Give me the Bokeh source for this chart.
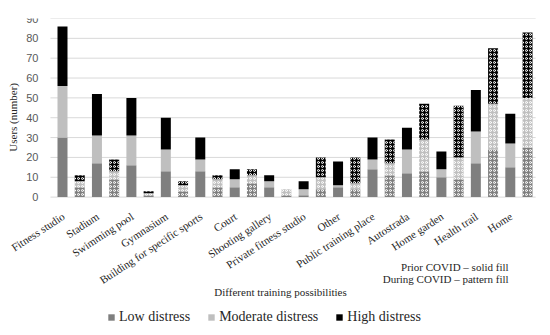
import math
from bokeh.plotting import figure
from bokeh.models import ColumnDataSource, FixedTicker, Legend, LegendItem, Label
from bokeh.core.properties import value
from bokeh.embed import file_html
from bokeh.resources import INLINE

categories = ["Fitness studio", "Stadium", "Swimming pool", "Gymnasium",
              "Building for specific sports", "Court", "Shooting gallery",
              "Private fitness studio", "Other", "Public training place",
              "Autostrada", "Home garden", "Health trail", "Home"]

prior_low = [30, 17, 16, 13, 13, 5, 5, 1, 5, 14, 12, 10, 17, 15]
prior_mod = [26, 14, 15, 11, 6, 4, 3, 3, 1, 5, 12, 4, 16, 12]
prior_high = [30, 21, 19, 16, 11, 5, 3, 4, 12, 11, 11, 9, 21, 15]

during_low = [5, 9, 1, 3, 5, 7, 1, 4, 4, 11, 13, 9, 24, 25]
during_mod = [3, 4, 1, 3, 4, 4, 3, 6, 3, 6, 16, 11, 23, 25]
during_high = [3, 6, 1, 2, 2, 3, 0, 10, 13, 12, 18, 26, 28, 33]

y_ticks = [0, 10, 20, 30, 40, 50, 60, 70, 80, 90]
stack_names = ["Low distress", "Moderate distress", "High distress"]
colors = ["#7f7f7f", "#bfbfbf", "#000000"]

n = len(categories)
src_prior = ColumnDataSource(dict(x=[2 * i for i in range(n)], low=prior_low,
                                  mod=prior_mod, high=prior_high))
src_during = ColumnDataSource(dict(x=[2 * i + 1 for i in range(n)], low=during_low,
                                   mod=during_mod, high=during_high))

AXIS_X = -0.7      # where the plotting area begins (data units)
GRID_END = 27.47

p = figure(width=542, height=327, output_backend="svg", toolbar_location=None,
           x_range=(-3.6, 27.87), y_range=(-65.7, 90),
           min_border_left=0, min_border_right=0, min_border_top=18,
           min_border_bottom=0)
p.outline_line_color = None
p.xgrid.grid_line_color = None
p.ygrid.grid_line_color = None

# horizontal gridlines over the plotting area only
p.segment(x0=[AXIS_X] * len(y_ticks), x1=[GRID_END] * len(y_ticks),
          y0=y_ticks, y1=y_ticks, line_color="#d9d9d9", line_width=1)

r_prior = p.vbar_stack(["low", "mod", "high"], x="x", width=0.58, source=src_prior,
                       color=colors, line_color=None)
r_during = p.vbar_stack(["low", "mod", "high"], x="x", width=0.58, source=src_during,
                        fill_color=colors, line_color=None, hatch_pattern="ring",
                        hatch_color="white", hatch_scale=4, hatch_weight=1)

p.yaxis.fixed_location = AXIS_X
p.yaxis.ticker = FixedTicker(ticks=y_ticks)
p.yaxis.axis_line_color = None
p.yaxis.major_tick_line_color = None
p.yaxis.minor_tick_line_color = None
p.yaxis.major_label_text_font = "Liberation Sans"
p.yaxis.major_label_text_font_size = "11px"
p.yaxis.major_label_text_color = "#595959"
p.yaxis.major_label_standoff = 6

label_ticks = [2 * i + 0.05 for i in range(n)]
p.xaxis.fixed_location = 0
p.xaxis.ticker = FixedTicker(ticks=label_ticks)
p.xaxis.major_label_overrides = {c: name for c, name in zip(label_ticks, categories)}
p.xaxis.major_label_orientation = 0.58
p.xaxis.axis_line_color = None
p.xaxis.major_tick_line_color = None
p.xaxis.minor_tick_line_color = None
p.xaxis.major_label_text_font = "Liberation Serif"
p.xaxis.major_label_text_font_size = "11px"
p.xaxis.major_label_text_color = "#262626"
p.xaxis.major_label_standoff = 12

txt = dict(text_font="Liberation Serif", text_font_size="11px", text_color="#262626",
           text_baseline="middle")
p.text(x=[-2.889], y=[40.2], text=["Users (number)"], angle=math.pi / 2,
       text_align="center", text_baseline="middle", text_font=value("Liberation Serif"),
       text_font_size="11px", text_color="#262626")
p.add_layout(Label(x=12.66, y=-48.0, text="Different training possibilities",
                   text_align="center", **txt))
p.add_layout(Label(x=25.9, y=-35.4, text="Prior COVID \u2013 solid fill",
                   text_align="right", **txt))
p.add_layout(Label(x=25.9, y=-41.5, text="During COVID \u2013 pattern fill",
                   text_align="right", **txt))

legend = Legend(items=[LegendItem(label=nm, renderers=[r]) for nm, r in zip(stack_names, r_prior)],
                orientation="horizontal", location=(107, 2),
                glyph_width=8, glyph_height=8, label_standoff=4, spacing=17,
                padding=0, margin=0, border_line_color=None, background_fill_alpha=0,
                label_text_font="Liberation Serif", label_text_font_size="14px",
                label_text_color="#262626")
p.add_layout(legend)

open("out.html", "w").write(file_html(p, INLINE))
